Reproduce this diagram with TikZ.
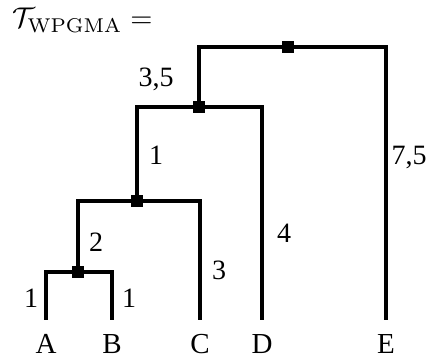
\documentclass[tikz,border=0pt]{standalone}
\usepackage[no-math]{fontspec}
\setmainfont{Liberation Serif}
\begin{document}
\begin{tikzpicture}[x=1pt,y=-1pt,
  inner/.style={fill=black,minimum size=12pt,inner sep=0pt,outer sep=0pt},
  leaf/.style={inner sep=0pt,outer sep=0pt,text height=20pt,text depth=0pt,anchor=base,font=\fontsize{29}{32}\selectfont},
  lbl/.style={inner sep=0pt,font=\fontsize{28}{32}\selectfont},
  edge/.style={line width=4pt,line join=miter}]
\useasboundingbox (0,0) rectangle (436,358);
\node[anchor=base west,inner sep=0pt] (title) at (12,28) {\scalebox{2.85}{$\mathcal{T}_{\mathrm{WPGMA}} =$}};
% leaves
\node[leaf] (A) at (46,353) {A};
\node[leaf] (B) at (112,353) {B};
\node[leaf] (C) at (200,353) {C};
\node[leaf] (D) at (262,353) {D};
\node[leaf] (E) at (386,353) {E};
\coordinate (At) at (46,320);
\coordinate (Bt) at (112,320);
\coordinate (Ct) at (200,320);
\coordinate (Dt) at (262,320);
\coordinate (Et) at (386,320);
% internal nodes
\node[inner] (n1) at (78,272) {};
\node[inner] (n2) at (137,201) {};
\node[inner] (n3) at (199,107) {};
\node[inner] (n4) at (288,47) {};
% edges
\draw[edge] (n1) -| (At);
\draw[edge] (n1) -| (Bt);
\draw[edge] (n2) -| (n1);
\draw[edge] (n2) -| (Ct);
\draw[edge] (n3) -| (n2);
\draw[edge] (n3) -| (Dt);
\draw[edge] (n4) -| (n3);
\draw[edge] (n4) -| (Et);
% edge labels
\node[lbl] (lA) at (31,298) {1};
\node[lbl] (lB) at (129,298) {1};
\node[lbl] (l1) at (96,242) {2};
\node[lbl] (lC) at (219,270) {3};
\node[lbl] (l2) at (156,155) {1};
\node[lbl] (lD) at (284,233) {4};
\node[lbl] (l3) at (156,79) {3,5};
\node[lbl] (lE) at (409,157) {7,5};
\end{tikzpicture}
\end{document}
